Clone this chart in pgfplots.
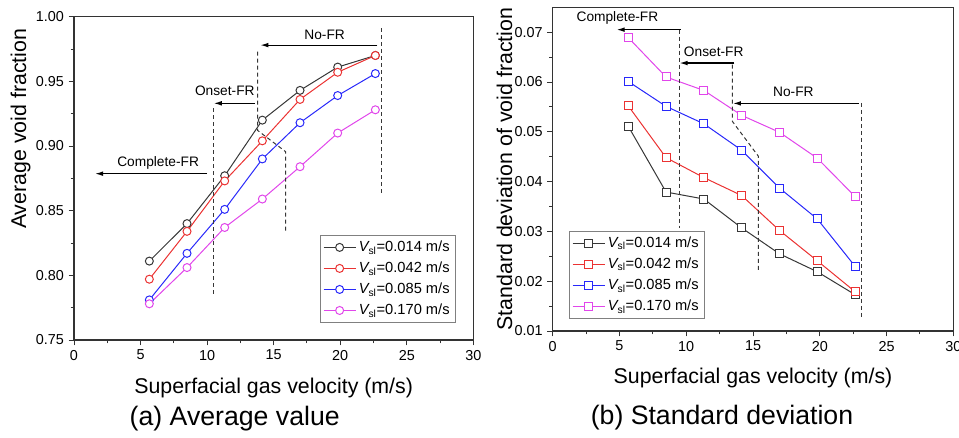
\documentclass[border=0pt]{standalone}
\usepackage{pgfplots}
\pgfplotsset{compat=1.18}
\usepackage{fontspec}
\setmainfont{Liberation Sans}
\usetikzlibrary{arrows.meta}

\definecolor{cblack}{RGB}{55,55,55}
\definecolor{cred}{RGB}{235,50,50}
\definecolor{cblue}{RGB}{40,40,250}
\definecolor{cmag}{RGB}{225,70,235}

\pgfplotsset{
  panel/.style={
    scale only axis, clip=false,
    xmin=0, xmax=30, xtick={0,5,...,30},
    minor x tick num=1, minor y tick num=1,
    tick align=outside, xtick pos=bottom, ytick pos=left,
    major tick length=4pt, minor tick length=2.5pt,
    every tick/.style={line width=0.7pt, black!80},
    axis line style={line width=0.8pt, black!80},
    tick label style={font=\fontsize{10.8}{13}\selectfont},
    /pgf/number format/assume math mode=true,
    scaled y ticks=false,
    yticklabel style={/pgf/number format/fixed, /pgf/number format/fixed zerofill,
      /pgf/number format/precision=2},
    label style={font=\fontsize{16}{19}\selectfont},
    legend style={font=\fontsize{11}{13}\selectfont, draw=gray, line width=0.6pt,
      inner xsep=2pt, inner ysep=2.5pt, row sep=2.3pt},
    legend cell align=left,
    legend image code/.code={\draw[mark repeat=2,mark phase=2]
      plot coordinates {(0pt,0pt) (12pt,0pt) (24pt,0pt)};},
  },
  ser/.style={color=#1, line width=0.75pt, mark size=3pt,
    mark options={fill=white, line width=0.75pt}},
}
\tikzset{
  dsh/.style={cblack, line width=0.75pt, dash pattern=on 3pt off 2.25pt},
  arr/.style={-{Latex[length=6pt,width=3.5pt]}, line width=0.9pt, black},
  ann/.style={font=\fontsize{10.3}{12}\selectfont},
}

\newcommand{\vsl}{{\itshape V}\textsubscript{sl}}

\begin{document}
\begin{tikzpicture}
\useasboundingbox (0,0) rectangle (719.25pt,328.5pt);

% (a) average void fraction
\begin{axis}[panel,
  at={(55.5pt,73.5pt)}, anchor=south west,
  width=299.5pt, height=242.5pt,
  ymin=0.75, ymax=1.00, ytick={0.75,0.80,...,1.00},
  xlabel={Superfacial gas velocity (m/s)},
  ylabel={Average void fraction},
  xlabel style={at={(axis description cs:0.5,-0.164)}, anchor=base},
  ylabel style={at={(axis description cs:-0.12,0.653)}, anchor=base},
  legend style={at={(0.955,0.052)}, anchor=south east},
]
\addplot[ser=cblack, mark=*] coordinates {
  (5.66,0.811) (8.49,0.840) (11.32,0.877) (14.15,0.920) (16.98,0.943) (19.81,0.961) (22.64,0.970)};
\addlegendentry{\vsl=0.014 m/s}
\addplot[ser=cred, mark=*] coordinates {
  (5.66,0.797) (8.49,0.834) (11.32,0.873) (14.15,0.904) (16.98,0.936) (19.81,0.957) (22.64,0.970)};
\addlegendentry{\vsl=0.042 m/s}
\addplot[ser=cblue, mark=*] coordinates {
  (5.66,0.781) (8.49,0.817) (11.32,0.851) (14.15,0.890) (16.98,0.918) (19.81,0.939) (22.64,0.956)};
\addlegendentry{\vsl=0.085 m/s}
\addplot[ser=cmag, mark=*] coordinates {
  (5.66,0.778) (8.49,0.806) (11.32,0.837) (14.15,0.859) (16.98,0.884) (19.81,0.910) (22.64,0.928)};
\addlegendentry{\vsl=0.170 m/s}

% regime annotations
\draw[dsh] (axis cs:23.1,0.991) -- (axis cs:23.1,0.863);
\draw[arr] (axis cs:22.8,0.978) -- (axis cs:14.0,0.978);
\node[ann] at (axis cs:18.83,0.986) {No-FR};
\draw[dsh] (axis cs:13.8,0.973) -- (axis cs:13.8,0.912) -- (axis cs:15.9,0.8956) -- (axis cs:15.9,0.8325);
\draw[arr] (axis cs:13.6,0.933) -- (axis cs:10.5,0.933);
\node[ann] at (axis cs:11.33,0.9425) {Onset-FR};
\draw[dsh] (axis cs:10.5,0.929) -- (axis cs:10.5,0.7835);
\draw[arr] (axis cs:10.0,0.8786) -- (axis cs:1.58,0.8786);
\node[ann] at (axis cs:6.32,0.8866) {Complete-FR};

\node[font=\fontsize{20}{24}\selectfont, anchor=base] at (axis description cs:0.4025,-0.263) {(a) Average value};
\end{axis}

% (b) standard deviation
\begin{axis}[panel,
  at={(414.5pt,80.25pt)}, anchor=south west,
  width=300.5pt, height=242.8pt,
  ymin=0.01, ymax=0.075, ytick={0.01,0.02,...,0.07},
  xlabel={Superfacial gas velocity (m/s)},
  ylabel={Standard deviation of void fraction},
  xlabel style={at={(axis description cs:0.5,-0.161)}, anchor=base},
  ylabel style={at={(axis description cs:-0.101,0.5)}, anchor=base},
  legend style={at={(0.041,0.037)}, anchor=south west},
]
\addplot[ser=cblack, mark=square*] coordinates {
  (5.66,0.0511) (8.49,0.0379) (11.32,0.0365) (14.15,0.0307) (16.98,0.0255) (19.81,0.0219) (22.64,0.0173)};
\addlegendentry{\vsl=0.014 m/s}
\addplot[ser=cred, mark=square*] coordinates {
  (5.66,0.0552) (8.49,0.0448) (11.32,0.0408) (14.15,0.0372) (16.98,0.0302) (19.81,0.0241) (22.64,0.0179)};
\addlegendentry{\vsl=0.042 m/s}
\addplot[ser=cblue, mark=square*] coordinates {
  (5.66,0.0601) (8.49,0.0551) (11.32,0.0516) (14.15,0.0463) (16.98,0.0387) (19.81,0.0325) (22.64,0.0230)};
\addlegendentry{\vsl=0.085 m/s}
\addplot[ser=cmag, mark=square*] coordinates {
  (5.66,0.0689) (8.49,0.0610) (11.32,0.0583) (14.15,0.0533) (16.98,0.0499) (19.81,0.0447) (22.64,0.0370)};
\addlegendentry{\vsl=0.170 m/s}

\draw[arr] (axis cs:9.59,0.0705) -- (axis cs:4.79,0.0705);
\node[ann] at (axis cs:4.85,0.0729) {Complete-FR};
\draw[dsh] (axis cs:9.49,0.0705) -- (axis cs:9.49,0.0307);
\draw[arr] (axis cs:13.6,0.0638) -- (axis cs:9.5,0.0638);
\node[ann] at (axis cs:12.06,0.0660) {Onset-FR};
\draw[dsh] (axis cs:13.45,0.0635) -- (axis cs:13.45,0.0521) -- (axis cs:15.4,0.0451) -- (axis cs:15.4,0.0221);
\draw[arr] (axis cs:22.9,0.0557) -- (axis cs:13.5,0.0557);
\node[ann] at (axis cs:18.02,0.0581) {No-FR};
\draw[dsh] (axis cs:23.15,0.0558) -- (axis cs:23.15,0.0129);

\node[font=\fontsize{20}{24}\selectfont, anchor=base] at (axis description cs:0.4226,-0.290) {(b) Standard deviation};
\end{axis}
\end{tikzpicture}
\end{document}
